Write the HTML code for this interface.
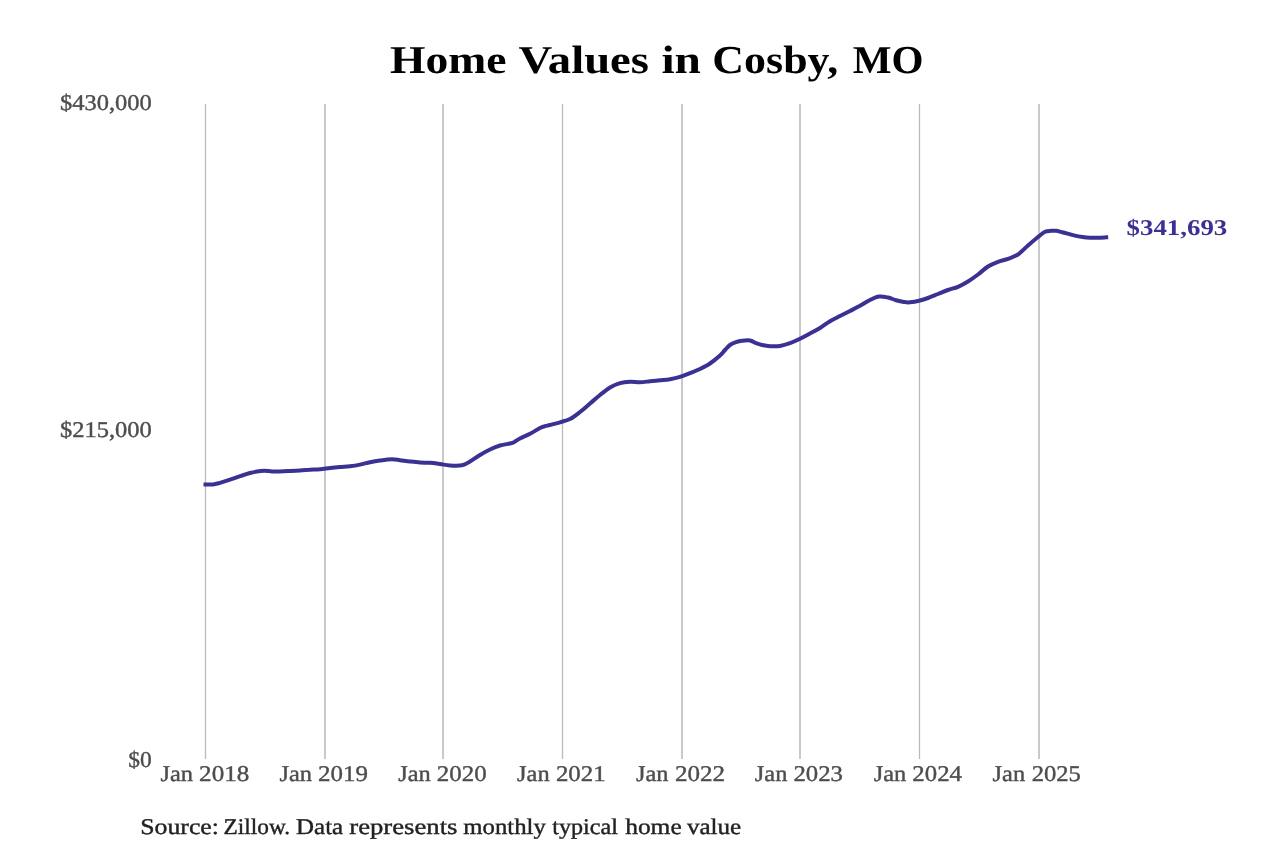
<!DOCTYPE html>
<html lang="en">
<head>
<meta charset="utf-8">
<title>Home Values in Cosby, MO</title>
<style>
html,body{margin:0;padding:0;background:#ffffff;}
body{width:1280px;height:853px;overflow:hidden;font-family:"Liberation Serif",serif;}
svg{display:block;}
text{font-family:"Liberation Serif",serif;text-rendering:geometricPrecision;}
.tick{fill:#4d4d4d;stroke:#4d4d4d;stroke-width:0.4px;}
.src{fill:#222222;stroke:#222222;stroke-width:0.4px;}
</style>
</head>
<body>
<svg style="will-change:transform" width="1280" height="853" viewBox="0 0 1280 853">
<rect x="0" y="0" width="1280" height="853" fill="#ffffff"/>

<g>
<rect x="204.85" y="104" width="1.3" height="655" fill="#bbbbbb"/>
<rect x="324.00" y="104" width="2" height="655" fill="#c9c9c9"/>
<rect x="442.00" y="104" width="2" height="655" fill="#c9c9c9"/>
<rect x="561.85" y="104" width="1.3" height="655" fill="#bbbbbb"/>
<rect x="681.00" y="104" width="2" height="655" fill="#c9c9c9"/>
<rect x="799.00" y="104" width="2" height="655" fill="#c9c9c9"/>
<rect x="918.85" y="104" width="1.3" height="655" fill="#bbbbbb"/>
<rect x="1038.00" y="104" width="2" height="655" fill="#c9c9c9"/>
</g>
<g>
<text x="390.04" y="73" font-size="39.5" font-weight="bold" fill="#000000" textLength="116.60" lengthAdjust="spacingAndGlyphs">Home</text>
<text x="518.46" y="73" font-size="39.5" font-weight="bold" fill="#000000" textLength="130.52" lengthAdjust="spacingAndGlyphs">Values</text>
<text x="661.42" y="73" font-size="39.5" font-weight="bold" fill="#000000" textLength="39.47" lengthAdjust="spacingAndGlyphs">in</text>
<text x="712.39" y="73" font-size="39.5" font-weight="bold" fill="#000000" textLength="125.74" lengthAdjust="spacingAndGlyphs">Cosby,</text>
<text x="852.67" y="73" font-size="39.5" font-weight="bold" fill="#000000" textLength="70.81" lengthAdjust="spacingAndGlyphs">MO</text>
</g>
<g class="tick">
<text x="59.90" y="110" font-size="22.5" textLength="91.87" lengthAdjust="spacingAndGlyphs">$430,000</text>
<text x="59.90" y="437" font-size="22.5" textLength="91.87" lengthAdjust="spacingAndGlyphs">$215,000</text>
<text x="128.19" y="767" font-size="22.5" textLength="23.44" lengthAdjust="spacingAndGlyphs">$0</text>
<text x="160.53" y="781" font-size="22.5" textLength="32.50" lengthAdjust="spacingAndGlyphs">Jan</text>
<text x="199.13" y="781" font-size="22.5" textLength="50.12" lengthAdjust="spacingAndGlyphs">2018</text>
<text x="279.40" y="781" font-size="22.5" textLength="32.50" lengthAdjust="spacingAndGlyphs">Jan</text>
<text x="317.99" y="781" font-size="22.5" textLength="49.91" lengthAdjust="spacingAndGlyphs">2019</text>
<text x="398.27" y="781" font-size="22.5" textLength="32.50" lengthAdjust="spacingAndGlyphs">Jan</text>
<text x="436.87" y="781" font-size="22.5" textLength="49.78" lengthAdjust="spacingAndGlyphs">2020</text>
<text x="517.14" y="781" font-size="22.5" textLength="32.50" lengthAdjust="spacingAndGlyphs">Jan</text>
<text x="555.93" y="781" font-size="22.5" textLength="49.75" lengthAdjust="spacingAndGlyphs">2021</text>
<text x="636.01" y="781" font-size="22.5" textLength="32.50" lengthAdjust="spacingAndGlyphs">Jan</text>
<text x="675.01" y="781" font-size="22.5" textLength="50.16" lengthAdjust="spacingAndGlyphs">2022</text>
<text x="754.88" y="781" font-size="22.5" textLength="32.50" lengthAdjust="spacingAndGlyphs">Jan</text>
<text x="793.49" y="781" font-size="22.5" textLength="49.52" lengthAdjust="spacingAndGlyphs">2023</text>
<text x="873.75" y="781" font-size="22.5" textLength="32.50" lengthAdjust="spacingAndGlyphs">Jan</text>
<text x="912.37" y="781" font-size="22.5" textLength="49.54" lengthAdjust="spacingAndGlyphs">2024</text>
<text x="992.62" y="781" font-size="22.5" textLength="32.50" lengthAdjust="spacingAndGlyphs">Jan</text>
<text x="1031.70" y="781" font-size="22.5" textLength="49.22" lengthAdjust="spacingAndGlyphs">2025</text>
</g>
<g class="src">
<text x="140.31" y="834" font-size="22.5" textLength="78.64" lengthAdjust="spacingAndGlyphs">Source:</text>
<text x="223.62" y="834" font-size="22.5" textLength="66.47" lengthAdjust="spacingAndGlyphs">Zillow.</text>
<text x="296.09" y="834" font-size="22.5" textLength="47.13" lengthAdjust="spacingAndGlyphs">Data</text>
<text x="349.27" y="834" font-size="22.5" textLength="108.25" lengthAdjust="spacingAndGlyphs">represents</text>
<text x="463.39" y="834" font-size="22.5" textLength="82.46" lengthAdjust="spacingAndGlyphs">monthly</text>
<text x="552.22" y="834" font-size="22.5" textLength="65.75" lengthAdjust="spacingAndGlyphs">typical</text>
<text x="625.20" y="834" font-size="22.5" textLength="56.49" lengthAdjust="spacingAndGlyphs">home</text>
<text x="686.98" y="834" font-size="22.5" textLength="54.28" lengthAdjust="spacingAndGlyphs">value</text>
</g>
<path d="M205.50,484.50C206.75,484.50 210.58,484.78 213.00,484.50C215.42,484.22 217.17,483.60 220.00,482.80C222.83,482.00 226.67,480.80 230.00,479.70C233.33,478.60 236.67,477.32 240.00,476.20C243.33,475.08 247.17,473.78 250.00,473.00C252.83,472.22 254.67,471.87 257.00,471.50C259.33,471.13 261.50,470.82 264.00,470.80C266.50,470.78 269.33,471.30 272.00,471.40C274.67,471.50 277.00,471.47 280.00,471.40C283.00,471.33 286.67,471.15 290.00,471.00C293.33,470.85 296.67,470.70 300.00,470.50C303.33,470.30 306.67,470.02 310.00,469.80C313.33,469.58 316.67,469.50 320.00,469.20C323.33,468.90 326.67,468.37 330.00,468.00C333.33,467.63 336.67,467.30 340.00,467.00C343.33,466.70 346.67,466.60 350.00,466.20C353.33,465.80 356.67,465.27 360.00,464.60C363.33,463.93 366.67,462.88 370.00,462.20C373.33,461.52 376.33,460.98 380.00,460.50C383.67,460.02 388.67,459.35 392.00,459.30C395.33,459.25 397.00,459.83 400.00,460.20C403.00,460.57 406.67,461.12 410.00,461.50C413.33,461.88 416.67,462.28 420.00,462.50C423.33,462.72 426.67,462.55 430.00,462.80C433.33,463.05 436.67,463.55 440.00,464.00C443.33,464.45 446.33,465.28 450.00,465.50C453.67,465.72 458.67,465.97 462.00,465.30C465.33,464.63 467.00,463.22 470.00,461.50C473.00,459.78 476.67,457.00 480.00,455.00C483.33,453.00 486.67,451.08 490.00,449.50C493.33,447.92 496.67,446.50 500.00,445.50C503.33,444.50 507.67,444.05 510.00,443.50C512.33,442.95 512.33,443.03 514.00,442.20C515.67,441.37 517.33,439.90 520.00,438.50C522.67,437.10 526.67,435.55 530.00,433.80C533.33,432.05 537.50,429.27 540.00,428.00C542.50,426.73 543.33,426.70 545.00,426.20C546.67,425.70 547.50,425.65 550.00,425.00C552.50,424.35 556.67,423.30 560.00,422.30C563.33,421.30 566.67,420.72 570.00,419.00C573.33,417.28 576.67,414.58 580.00,412.00C583.33,409.42 586.67,406.33 590.00,403.50C593.33,400.67 596.67,397.67 600.00,395.00C603.33,392.33 606.67,389.47 610.00,387.50C613.33,385.53 616.67,384.15 620.00,383.20C623.33,382.25 626.67,381.97 630.00,381.80C633.33,381.63 636.67,382.28 640.00,382.20C643.33,382.12 646.67,381.62 650.00,381.30C653.33,380.98 656.67,380.65 660.00,380.30C663.33,379.95 666.67,379.77 670.00,379.20C673.33,378.63 676.67,377.90 680.00,376.90C683.33,375.90 686.67,374.52 690.00,373.20C693.33,371.88 696.67,370.62 700.00,369.00C703.33,367.38 706.67,365.75 710.00,363.50C713.33,361.25 717.50,357.75 720.00,355.50C722.50,353.25 723.33,351.75 725.00,350.00C726.67,348.25 728.17,346.30 730.00,345.00C731.83,343.70 734.00,342.90 736.00,342.20C738.00,341.50 739.67,341.08 742.00,340.80C744.33,340.52 747.67,340.10 750.00,340.50C752.33,340.90 754.00,342.45 756.00,343.20C758.00,343.95 759.67,344.50 762.00,345.00C764.33,345.50 767.00,346.03 770.00,346.20C773.00,346.37 776.67,346.50 780.00,346.00C783.33,345.50 786.67,344.40 790.00,343.20C793.33,342.00 796.67,340.42 800.00,338.80C803.33,337.18 806.67,335.30 810.00,333.50C813.33,331.70 816.67,330.05 820.00,328.00C823.33,325.95 826.67,323.20 830.00,321.20C833.33,319.20 836.67,317.70 840.00,316.00C843.33,314.30 846.67,312.70 850.00,311.00C853.33,309.30 856.67,307.63 860.00,305.80C863.33,303.97 866.83,301.55 870.00,300.00C873.17,298.45 876.00,296.92 879.00,296.50C882.00,296.08 885.17,296.88 888.00,297.50C890.83,298.12 893.33,299.45 896.00,300.20C898.67,300.95 901.67,301.65 904.00,302.00C906.33,302.35 907.33,302.55 910.00,302.30C912.67,302.05 917.00,301.22 920.00,300.50C923.00,299.78 925.00,299.08 928.00,298.00C931.00,296.92 934.67,295.33 938.00,294.00C941.33,292.67 944.67,291.20 948.00,290.00C951.33,288.80 954.67,288.22 958.00,286.80C961.33,285.38 964.67,283.55 968.00,281.50C971.33,279.45 974.67,277.00 978.00,274.50C981.33,272.00 984.67,268.62 988.00,266.50C991.33,264.38 994.67,263.08 998.00,261.80C1001.33,260.52 1004.67,260.02 1008.00,258.80C1011.33,257.58 1014.67,256.72 1018.00,254.50C1021.33,252.28 1024.67,248.42 1028.00,245.50C1031.33,242.58 1035.17,239.28 1038.00,237.00C1040.83,234.72 1042.83,232.83 1045.00,231.80C1047.17,230.78 1049.12,231.01 1051.00,230.85C1052.88,230.69 1054.50,230.64 1056.25,230.85C1058.00,231.06 1059.62,231.64 1061.50,232.10C1063.38,232.56 1065.25,233.01 1067.50,233.60C1069.75,234.19 1072.50,235.08 1075.00,235.65C1077.50,236.22 1080.00,236.65 1082.50,237.00C1085.00,237.35 1087.50,237.62 1090.00,237.75C1092.50,237.88 1094.80,237.82 1097.50,237.75C1100.20,237.68 1104.75,237.38 1106.20,237.30" fill="none" stroke="#3b3193" stroke-width="4" stroke-linecap="square" stroke-linejoin="round"/>
<text x="1126.51" y="235" font-size="22.5" font-weight="bold" fill="#3b3193" textLength="100.79" lengthAdjust="spacingAndGlyphs">$341,693</text>
</svg>
</body>
</html>
